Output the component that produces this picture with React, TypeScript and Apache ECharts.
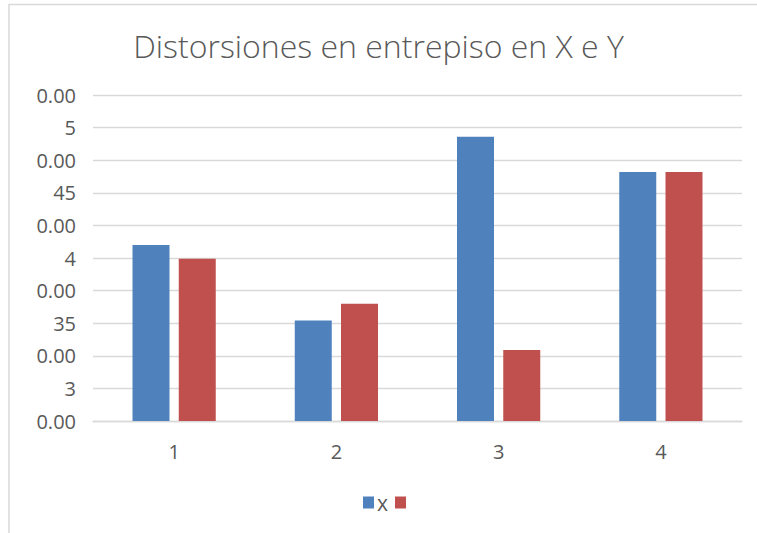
import React, { useEffect, useRef } from "react";
import * as echarts from "echarts";

// Storey index along the x axis
const categories = ["1", "2", "3", "4"];
// Inter-storey drift in each direction
const driftX = [0.00385, 0.00327, 0.00468, 0.00441];
const driftY = [0.003745, 0.0034, 0.003045, 0.00441];
// Axis range and the (wrapped) tick texts, bottom to top
const yMin = 0.0025;
const yMax = 0.005;
const yStep = 0.00025;
const yTickLabels = ["0.00", "3", "0.00", "35", "0.00", "4", "0.00", "45", "0.00", "5", "0.00"];
const seriesNames = ["x", " "];

const FONT = "'Open Sans', 'Noto Sans', sans-serif";

export default function App() {
  const ref = useRef<HTMLDivElement>(null);

  useEffect(() => {
    if (!ref.current) return;
    const chart = echarts.init(ref.current, undefined, { renderer: "svg" });
    chart.setOption({
      animation: false,
      backgroundColor: "#ffffff",
      title: {
        text: "Distorsiones en entrepiso en X e Y",
        left: "center",
        top: 24,
        textStyle: {
          fontFamily: FONT,
          fontSize: 32,
          fontWeight: 300,
          color: "#595959",
        },
      },
      graphic: [
        {
          type: "rect",
          shape: { x: 9, y: 4.5, width: 800, height: 600 },
          style: { fill: "none", stroke: "#d9d9d9", lineWidth: 1.5 },
          silent: true,
        },
      ],
      legend: {
        data: seriesNames,
        top: 487,
        left: 358,
        padding: 5,
        itemWidth: 11,
        itemHeight: 12,
        itemGap: 7,
        icon: "rect",
        textStyle: {
          fontFamily: FONT,
          fontSize: 21,
          color: "#595959",
          padding: [7, 0, 0, -2],
        },
      },
      grid: { left: 93, right: 15, top: 95, bottom: 112, containLabel: false },
      xAxis: {
        type: "category",
        data: categories,
        axisLine: { lineStyle: { color: "#d9d9d9", width: 1.3 } },
        axisTick: { show: false },
        axisLabel: { fontFamily: FONT, fontSize: 20, color: "#595959", margin: 20 },
      },
      yAxis: {
        type: "value",
        min: yMin,
        max: yMax,
        interval: yStep,
        axisLine: { show: false },
        axisTick: { show: false },
        splitLine: { lineStyle: { color: "#d9d9d9", width: 1.3 } },
        axisLabel: {
          fontFamily: FONT,
          fontSize: 20,
          color: "#595959",
          margin: 17,
          formatter: (v: number) => {
            const i = Math.round((v - yMin) / yStep);
            return yTickLabels[i] ?? "";
          },
        },
      },
      series: [
        {
          name: seriesNames[0],
          type: "bar",
          data: driftX,
          barWidth: 37,
          barGap: "25%",
          itemStyle: { color: "#4F81BD" },
        },
        {
          name: seriesNames[1],
          type: "bar",
          data: driftY,
          barWidth: 37,
          itemStyle: { color: "#C0504D" },
        },
      ],
    });
    return () => chart.dispose();
  }, []);

  return (
    <div
      ref={ref}
      style={{ position: "fixed", left: 0, top: 0, width: 757, height: 533 }}
    />
  );
}
